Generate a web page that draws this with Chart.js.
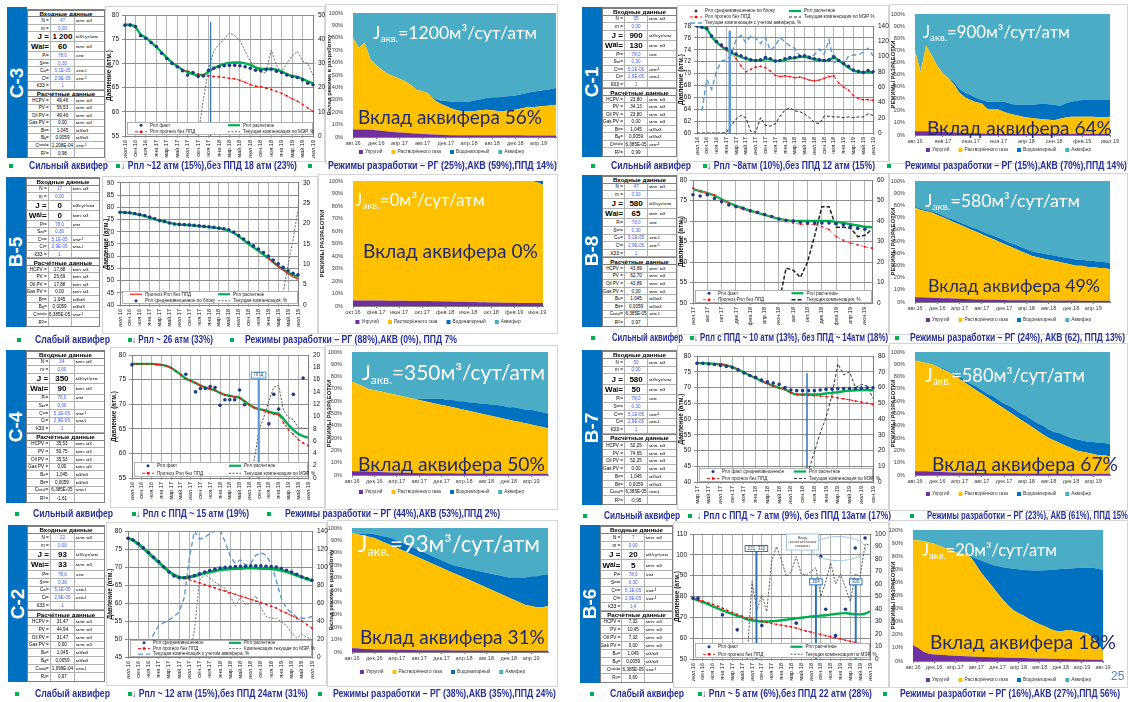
<!DOCTYPE html>
<html lang="ru">
<head>
<meta charset="utf-8">
<title>Режимы разработки по блокам</title>
<script src="https://cdn.jsdelivr.net/npm/chart.js@4.4.1/dist/chart.umd.min.js"></script>
<style>
html,body{margin:0;padding:0;background:#fff;}
#page{position:relative;width:1128px;height:702px;overflow:hidden;font-family:"Liberation Sans",Arial,sans-serif;background:#fff;}
.bar{position:absolute;background:#0070c0;}
.bar span{position:absolute;left:50%;top:50%;transform:translate(-50%,-50%) rotate(-90deg);color:#fff;font:bold 19px "Liberation Sans",Arial,sans-serif;white-space:nowrap;}
.tbl{position:absolute;border:1px solid #808080;box-sizing:border-box;background:#fff;}
.row{display:flex;box-sizing:border-box;border-bottom:1px solid #b0b0b0;}
.row:last-child{border-bottom:none;}
.row>div{box-sizing:border-box;height:100%;display:flex;align-items:center;white-space:nowrap;overflow:hidden;border-right:1px solid #b0b0b0;padding:0 1px;}
.row>div:last-child{border-right:none;}
.row.hdr>div{justify-content:center;font-weight:bold;width:100%;border-right:none;}
.row.hdr{border-top:1px solid #808080;border-bottom:1px solid #808080;}
.c1{width:30%;justify-content:flex-end;}
.c2{width:32%;justify-content:center;}
.c3{width:38%;justify-content:flex-start;}
.in .c2{color:#3a5bff;}
.big .c1,.big .c2{font-weight:bold;color:#000;}
sub,sup{line-height:0;}
.frame{position:absolute;border:1px solid #d4d4d4;box-sizing:border-box;}
.frame.white{background:#fff;}
.cap{position:absolute;color:#26309a;white-space:nowrap;font-size:10px;font-weight:bold;line-height:12px;transform-origin:0 50%;}
.bul{position:absolute;width:4px;height:4px;background:#00b050;}
.bigtxt{position:absolute;white-space:nowrap;font-family:Lato,"Open Sans",sans-serif;line-height:1;}
.bigtxt .sb{font-size:0.58em;position:relative;top:0.28em;}
canvas{position:absolute;}
</style>
</head>
<body>
<div id="page"></div>
<script>
// ---------- month labels ----------
const mJul16Jul19 = ["июл.16","авг.16","сен.16","окт.16","ноя.16","дек.16","янв.17","фев.17","мар.17","апр.17","май.17","июн.17","июл.17","авг.17","сен.17","окт.17","ноя.17","дек.17","янв.18","фев.18","мар.18","апр.18","май.18","июн.18","июл.18","авг.18","сен.18","окт.18","ноя.18","дек.18","янв.19","фев.19","мар.19","апр.19","май.19","июн.19","июл.19"];
const mAug16Jul19 = mJul16Jul19.slice(1);
const mOct16Jul19 = mJul16Jul19.slice(3);
const mAug16Aug19 = mJul16Jul19.slice(1).concat(["авг.19"]);
const mJun17Jul19 = ["июн.17","июл.17","авг.17","сен.17","окт.17","ноя.17","дек.17","янв.18","фев.18","мар.18","апр.18","май.18","июн.18","июл.18","авг.18","сен.18","окт.18","ноя.18","дек.18","янв.19","фев.19","мар.19","апр.19","май.19","июн.19","июл.19"];
const mMar17Sep19 = ["мар.17","апр.17","май.17","июн.17","июл.17","авг.17","сен.17","окт.17","ноя.17","дек.17","янв.18","фев.18","мар.18","апр.18","май.18","июн.18","июл.18","авг.18","сен.18","окт.18","ноя.18","дек.18","янв.19","фев.19","мар.19","апр.19","май.19","июн.19","июл.19","авг.19","сен.19"];

// ---------- С-3 ----------
const c3Table = ["47","0,00","1 200","60","78,0","0,30","5,1E-05","2,9E-05","1","49,46","56,53","49,46","0,00","1,045","0,0059","1,208E-04","0,98"];
const c3Fact = [77.9,77.9,77.6,75.7,75.2,74.3,73.5,72.1,71.0,70.0,69.3,68.5,67.6,68.1,67.3,67.4,68.6,69.0,69.3,69.5,69.6,69.6,69.5,69.3,69.0,68.6,68.5,68.8,68.8,68.4,68.1,67.6,67.3,67.1,66.6,65.9,65.6];
const c3Calc = [78.0,78.0,77.5,76.0,75.3,74.4,73.4,72.3,71.2,70.2,69.4,68.7,68.2,67.8,67.6,67.6,68.3,69.0,69.5,69.9,70.1,70.2,70.2,70.0,69.7,69.2,68.9,68.8,68.9,68.7,68.3,67.8,67.4,67.2,66.8,66.3,65.9];
const c3NoPpd = [null,null,null,null,null,null,null,null,null,null,null,68.5,68.4,68.1,67.8,67.6,67.4,67.3,67.2,67.1,66.9,66.8,66.5,66.1,65.6,65.3,65.2,64.9,64.6,64.2,63.8,63.3,62.7,62.2,61.5,60.8,60.1];
const c3Comp = [null,null,null,null,null,null,null,null,null,null,null,null,null,null,0,15,28,35,38,40,42.5,41.5,39.5,35,31,28,26.5,26,35.5,29,26.5,30,33,35,31,30,25];
const c3Elastic = [6,6,6,5.8,5.5,5,4.5,4,3.7,3.4,3.1,2.8,2.5,2.3,2,1.8,1.6,1.5,1.5,1.5,1.5,1.5,1.5,1.5,1.4,1.4,1.4,1.4,1.4,1.4,1.3,1.3,1.3,1.3,1.3,1.3];
const c3Gas = [74,66,70,57.2,52.5,49,46.5,45,43.3,41.6,38.9,35.2,34.5,32.7,28,25.2,23.4,21.5,20,19,19,19.5,20,20.5,20.1,19.6,19.6,20.1,20.6,21.6,22.7,22.7,23.2,23.7,24.2,24.7];
const c3Water = [0,0,0,0,0,0,0,0,0,0,0,0,0,0.5,1,2.5,4,5.5,6.7,7.7,8,8.5,9,9.5,10.5,11,11.5,11.5,11.5,11.5,11.5,12.5,12.5,13,13,13.5];
const c3Aquifer = [20,28,24,37,42,46,49,51,53,55,58,62,63,64.5,69,70.5,71,71.5,71.8,71.8,71.5,70.5,69.5,68.5,68,68,67.5,67,66.5,65.5,64.5,63.5,63,62,61.5,60.5];

// ---------- С-1 ----------
const c1Table = ["35","0,00","900","130","78,0","0,30","5,1E-05","2,9E-05","1","23,80","34,13","23,80","0,00","1,045","0,0059","6,385E-05","0,99"];
const c1Fact = [78,77.8,77.6,76.3,75.4,74.8,74.2,73.6,73.3,73.0,72.6,72.3,72.2,72.3,72.7,72.5,72.1,72.2,72.5,72.7,72.7,72.9,73.0,72.7,72.5,72.3,72.2,72.3,72.8,72.2,71.7,71.2,70.6,70.4,70.2,70.5,70.3];
const c1Calc = [78,77.8,77.5,76.2,75.3,74.6,74.0,73.5,73.1,72.8,72.5,72.3,72.2,72.2,72.4,72.4,72.1,72.1,72.3,72.5,72.6,72.8,72.8,72.6,72.4,72.3,72.2,72.3,72.7,72.2,71.6,71.0,70.5,70.3,70.2,70.3,70.1];
const c1NoPpd = [null,null,null,null,null,74.6,74.0,73.4,72.5,71.3,70.3,70.7,71.1,71.2,71.0,70.4,69.7,69.5,69.6,69.5,69.3,69.4,69.2,68.9,68.8,68.9,69.2,69.5,69.6,68.4,67.7,67.2,66.3,65.8,65.6,65.6,65.5];
const c1Comp = [0,0,0,0,0,0,0.5,10,18,23,20,2,1,20,10,9,12,22,30,33,29,28,25,20,14,12,22,22,21,21,20,21,20,21,21,25,23];
const c1AqComp = [null,29,70,57,81,94,96,102,122,128,118,127,124,117,125,108,114,125,119,114,111,101,100,101,102,110,103,122,92,95,90,101,102,102,106,111,101];
const c1Elastic = [3,3,3,2.8,2.6,2.4,2.2,2,1.8,1.6,1.5,1.4,1.3,1.2,1.1,1,1,1,1,1,1,1,1,1,1,1,1,1,1,1,1,1,1,1,1,1];
const c1Gas = [67,49,71,63.2,54.4,48.6,44.8,40,33.2,29.4,27.5,25.6,24.7,20.3,19.9,20,18,16.5,15.5,14.5,13.5,13,12.5,12,11.6,11.2,12.5,13.5,14,14,14,14,14,13.7,13.7,14];
const c1Water = [0,0,0,0,0,0,0,2,3,4,4,3.5,3,6,6.5,6.5,8.5,8.5,8.5,9.5,10.5,11,12,13,12.9,12.8,10.5,11.5,12.5,13.5,14,14,14,14.3,14.3,14];
const c1Aquifer = [30,48,26,34,43,49,53,56,62,65,67,69.5,71,72.5,72.5,72.5,72.5,74,75,75,75,75,74.5,74,74.5,75,76,74,72.5,71.5,71,71,71,71,71,71];

// ---------- В-5 ----------
const b5Table = ["17","0,00","0","0","78,0","0,30","5,1E-05","2,9E-05","1","17,88","25,69","17,88","0,00","1,045","0,0059","6,385E-05",""];
const b5Fact = [78.0,77.9,77.8,77.5,77.0,76.6,76.0,75.3,74.6,74.2,73.6,73.2,73.0,72.9,72.8,72.6,72.4,72.2,72.0,71.8,71.5,71.2,70.8,69.9,68.4,67.0,65.6,64.2,62.9,61.5,60.0,58.4,56.9,55.4,54.0,53.0,52.4];
const b5Calc = [78.0,77.9,77.7,77.3,76.9,76.4,75.8,75.2,74.6,74.1,73.6,73.2,72.9,72.8,72.7,72.5,72.3,72.1,71.9,71.7,71.4,71.1,70.5,69.5,68.1,66.6,65.1,63.6,62.2,60.7,59.2,57.5,56.0,54.6,53.3,52.3,51.5];
const b5NoPpd = [null,null,null,null,null,null,null,null,null,null,null,null,null,null,null,null,null,null,null,null,null,null,null,null,null,null,null,null,null,null,59.2,57.4,55.8,54.2,52.8,51.6,50.6];
const b5Comp = [null,null,null,null,null,null,null,null,null,null,null,null,null,null,null,null,null,null,null,null,null,null,null,null,null,null,null,null,null,null,null,null,null,3,10,16,23.5];
const b5Elastic = [4.5,4.5,4.5,4.5,4.4,4.4,4.3,4.3,4.2,4.2,4.1,4.1,4,4,3.9,3.8,3.7,3.6,3.5,3.4,3.3,3.2,3.1,3,2.9,2.8,2.7,2.6,2.6,2.5,2.5,2.5,2.5,2.5];
const b5Gas = [95.5,95.5,95.5,95.5,95.6,95.6,95.7,95.7,95.8,95.8,95.9,95.9,96,96,96.1,96.2,96.3,96.4,96.5,96.6,96.7,96.8,96.9,97,97.1,97.2,97.3,97.4,97.4,97.5,97.5,97.5,96.5,94.5];
const b5Water = [0,0,0,0,0,0,0,0,0,0,0,0,0,0,0,0,0,0,0,0,0,0,0,0,0,0,0,0,0,0,0,0,1,3];
const b5Aquifer = [0,0,0,0,0,0,0,0,0,0,0,0,0,0,0,0,0,0,0,0,0,0,0,0,0,0,0,0,0,0,0,0,0,0];

// ---------- В-8 ----------
const b8Table = ["47","0,00","580","65","78,0","0,30","5,1E-05","2,9E-05","1","43,89","62,70","43,89","0,00","1,045","0,0059","6,385E-05","0,97"];
const b8Fact = [76.4,76.1,76.4,75.5,74.7,73.9,73.5,73.1,72.5,72.1,71.6,71.1,70.5,70.2,70.0,69.7,69.5,69.5,69.5,69.5,69.3,69.1,68.7,68.2,68.0,null];
const b8Calc = [77.8,77.3,76.8,76.2,75.3,74.4,73.7,73.1,72.5,72.0,71.5,71.0,70.5,70.2,70.0,70.0,70.0,70.0,70.0,70.0,69.8,69.5,69.2,68.9,68.6,68.5];
const b8NoPpd = [78.0,77.2,76.8,76.4,75.1,74.3,73.5,72.8,72.3,72.1,71.5,71.1,70.6,69.9,69.5,69.2,69.2,69.1,68.6,67.9,66.2,65.3,64.6,64.2,63.7,63.4];
const b8Comp = [null,null,null,null,null,null,null,null,null,null,null,null,0,17,16,12.5,20,33,47,47,37,37,36.5,32.4,33,36];
const b8Elastic = [4,4,3.8,3.6,3.4,3.2,3,2.8,2.6,2.4,2.2,2,2,1.8,1.8,1.6,1.6,1.5,1.5,1.5,1.4,1.4,1.4,1.3,1.3,1.3,1.2,1.2,1.2,1.2,1.1,1.1,1.1,1,1,1];
const b8Gas = [74,72,71.2,70.4,68.6,66.8,65,63.2,61.4,59.6,57.8,56,54,52.2,50.2,48.4,46.4,44.5,42.5,40.5,38.6,36.6,35.6,34.7,33.7,32.7,31.8,30.8,29.8,28.8,28.9,27.9,27.9,27,27,26];
const b8Water = [1,1,1,1,1.5,1.5,1.5,2,2,2,2,2.5,2.5,2.5,3,3,3,3,3.5,3.5,3.5,4,4,4,4,4.5,4.5,4.5,5,5,5,5,5,5,5,5];
const b8Aquifer = [21,23,24,25,26.5,28.5,30.5,32,34,36,38,39.5,41.5,43.5,45,47,49,51,52.5,54.5,56.5,58,59,60,61,61.5,62.5,63.5,64,65,65,66,66,67,67,68];

// ---------- С-4 ----------
const c4Table = ["34","0,00","350","90","78,0","0,30","5,1E-05","2,9E-05","1","35,53","50,75","35,53","0,00","1,045","0,0059","6,385E-05","-1,61"];
const c4Fact = [78.0,null,null,null,null,null,null,null,null,null,null,76.1,null,72.5,73.2,73.2,73.6,73.4,69.8,70.9,70.9,70.9,72.9,69.9,null,null,null,null,66.0,72.0,69.0,null,null,72.0,null,75.3,null];
const c4Calc = [78.2,78.2,78.2,78.2,78.2,78.1,78.0,77.8,77.4,76.7,76.0,75.2,74.8,74.3,73.8,73.4,73.1,72.8,72.3,71.9,71.7,71.5,71.3,70.6,69.9,69.3,69.0,68.8,68.5,68.2,68.0,67.0,65.8,64.8,64.0,63.5,63.2];
const c4NoPpd = [78.2,78.2,78.2,78.2,78.2,78.1,78.0,77.8,77.4,76.7,76.0,75.2,74.8,74.3,73.8,73.4,73.1,72.8,72.3,71.9,71.7,71.5,71.3,70.6,69.9,69.3,69.0,68.7,68.3,68.0,67.8,66.2,64.8,63.9,62.8,62.1,61.6];
const c4Comp = [null,null,null,null,null,null,null,null,null,null,null,null,null,null,null,null,null,null,null,null,null,null,null,null,0,3,7.8,10,12.5,14.8,15,11,9.8,9.5,8.2,8.1,8.0];
const c4Elastic = [3,3,3,2.8,2.6,2.4,2.2,2,2,1.8,1.8,1.6,1.6,1.5,1.5,1.5,1.4,1.4,1.4,1.3,1.3,1.3,1.2,1.2,1.2,1.2,1.1,1.1,1.1,1.1,1,1,1,1,1,1];
const c4Gas = [73,71,69,67.2,66.4,65.6,64.8,64,63,62.2,61.2,60.4,59.4,58.5,57.5,56.5,55.6,54.6,53.6,52.7,51.7,50.7,49.8,48.8,47.8,46.8,45.9,44.9,43.9,42.9,42,41,40,39,38,37];
const c4Water = [0,0,0,0,0,0,0,0,0,0,0,0,1,2,3,4,5,5,6,6,7,7,8,8,9,9,10,10,10,11,11,11,12,12,12,12];
const c4Aquifer = [24,26,28,30,31,32,33,34,35,36,37,38,38,38,38,38,38,39,39,40,40,41,41,42,42,43,43,44,45,45,46,47,47,48,49,50];

// ---------- В-7 ----------
const b7Table = ["50","0,00","580","50","78,0","0,30","5,1E-05","2,9E-05","1","52,25","74,65","52,25","0,00","1,045","0,0059","6,385E-05","-0,95"];
const b7Fact = [77.7,77.7,77.5,77.3,77.0,76.7,76.4,75.6,74.6,73.8,73.2,72.4,71.8,71.4,71.0,70.0,69.2,69.0,69.0,69.0,69.0,69.2,69.4,69.5,69.6,69.7,69.7,69.7,69.8,69.9,69.9];
const b7Calc = [77.8,77.7,77.6,77.5,77.4,77.0,76.5,75.7,74.8,73.8,73.0,72.0,71.3,70.5,69.9,69.4,68.4,67.8,67.8,67.8,67.8,67.9,68.1,68.3,68.5,68.8,69.0,69.1,69.2,69.2,69.1];
const b7NoPpd = [77.8,77.7,77.6,77.5,77.4,77.0,76.5,75.7,74.8,73.8,73.0,72.0,71.3,70.5,69.9,69.4,68.4,67.8,67.6,67.5,67.4,67.3,67.1,67.0,66.7,66.4,66.1,65.7,65.4,65.0,64.6];
const b7Comp = [null,null,null,null,null,null,null,null,null,null,null,null,null,null,null,null,null,0,1,7,19,31,41,55,75,68,70,60,62,61,53];
const b7Elastic = [3,3,3,2.8,2.6,2.4,2.2,2,2,1.8,1.8,1.6,1.6,1.5,1.5,1.5,1.4,1.4,1.4,1.3,1.3,1.3,1.2,1.2,1.2,1.2,1.1,1.1,1.1,1.1,1,1,1,1,1,1];
const b7Gas = [90,89,88,87.2,85.4,83.6,81.8,79,76,73.2,70.2,67.4,64.4,61.5,58.5,55.5,52.6,49.6,46.6,43.7,40.7,37.7,34.8,31.8,28.8,26.8,24.9,22.9,20.9,18.9,18,17,16,15,15,14];
const b7Water = [0,0,0,0,0,1,1,1,2,2,2,3,3,3,4,4,4,5,5,5,6,6,6,7,7,7,8,8,8,9,9,9,10,10,10,10];
const b7Aquifer = [7,8,9,10,12,13,15,18,20,23,26,28,31,34,36,39,42,44,47,50,52,55,58,60,63,65,66,68,70,71,72,73,73,74,74,75];

// ---------- С-2 ----------
const c2Table = ["22","0,00","93","33","78,0","0,30","5,1E-05","2,9E-05","1","31,47","44,94","31,47","0,00","1,045","0,0059","1,099E-04","0,97"];
const c2Fact = [78.0,77.5,76.5,75.3,74.0,72.7,71.5,70.0,68.6,67.5,67.0,67.0,67.2,67.6,68.1,68.6,69.0,69.4,69.7,69.9,70.0,70.1,70.2,70.2,70.3,70.3,70.3,70.2,70.1,70.0,69.6,69.1,68.6,68.0,67.3,66.8,66.3];
const c2Calc = [78.0,77.4,76.4,75.2,73.9,72.6,71.3,70.0,68.8,67.8,67.2,67.0,67.2,67.5,67.9,68.3,68.6,68.9,69.2,69.4,69.5,69.6,69.6,69.7,69.7,69.7,69.6,69.6,69.5,69.4,69.1,68.7,68.2,67.7,67.2,66.7,66.2];
const c2NoPpd = [null,null,null,null,null,null,null,null,null,null,null,66.9,66.5,66.0,65.6,65.1,64.6,64.2,63.7,63.3,62.8,62.4,61.9,61.5,61.0,60.5,60.1,59.6,59.1,58.6,57.8,57.2,56.5,55.8,55.0,54.0,53.0];
const c2Comp = [null,null,null,null,null,null,null,null,null,null,null,null,0,30,85,92,88,83,80,76,68,57,66,58,60,68,55,45,43,43,39,35,27,21,25,22,19];
const c2AqComp = [null,null,null,null,15,25,35,38,41,45,50,66,110,140,131,133,137,140,141,128,112,104,108,102,104,113,116,113,104,85,65,54,49,44,43,43,45];
const c2Elastic = [3,3,2.5,2.5,2,2,2,2,1.8,1.8,1.6,1.6,1.5,1.5,1.5,1.4,1.4,1.4,1.3,1.3,1.3,1.2,1.2,1.2,1.2,1.1,1.1,1.1,1.1,1,1,1,1,1,1,1];
const c2Gas = [93,92,91.5,90.5,90,88,86,84,82.2,80.2,78.4,76.4,74.5,72.5,70.5,68.6,66.6,64.6,62.7,60.7,58.7,56.8,54.8,52.8,50.8,48.9,46.9,44.9,42.9,41,39,37,36,35,35,36];
const c2Water = [0,0.5,1.5,2.5,3,4,5,6,6,6,6,6,6,6,6,6,6,6,6,7,8,9,10,11,12,13,14,15,16,18,20,22,24,25,26,25];
const c2Aquifer = [4,4.5,4.5,4.5,5,6,7,8,10,12,14,16,18,20,22,24,26,28,30,31,32,33,34,35,36,37,38,39,40,40,40,40,39,39,38,38];

// ---------- В-6 ----------
const b6Table = ["7","0,00","20","5","78,0","0,30","5,1E-05","2,9E-05","1,4","7,32","10,45","7,32","0,00","1,045","0,0059","6,385E-05","0,60"];
const b6Fact = [79.2,79.2,null,null,null,null,71.2,null,null,64.0,null,null,null,null,66.1,null,null,null,null,null,null,67.2,null,null,null,null,99.2,73.9,null,61.3,null,73.9,null,103.3,null,108.1,null];
const b6Calc = [79.0,78.2,77.3,76.3,75.3,74.3,73.3,72.4,71.5,70.7,70.0,69.0,68.5,68.2,68.0,68.0,68.1,68.3,68.6,68.9,69.2,69.5,69.8,70.1,70.4,70.6,70.8,71.0,71.3,71.6,71.9,72.0,71.7,71.4,71.4,71.8,72.8];
const b6NoPpd = [79.0,78.4,77.8,77.0,76.2,75.4,74.4,73.3,72.3,71.4,70.5,69.7,69.1,68.6,68.1,67.6,67.1,66.6,66.2,65.8,65.4,64.8,64.1,63.4,62.9,62.3,61.8,61.2,60.7,60.1,59.6,59.0,58.5,57.9,57.4,56.9,56.6];
const b6Comp = [null,null,null,null,null,null,null,null,null,null,null,0,62,39,51,38,78,90,79,66,70,82,68,67,70,73,50,62,77,60,68,57,46,68,66,92,91];
const b6Elastic = [12,10,7,5.5,5,4.8,4.5,4.2,4,3.8,3.6,3.4,3.2,3,3,2.8,2.8,2.6,2.5,2.4,2.3,2.2,2.1,2,2,1.9,1.8,1.7,1.6,1.5,1.4,1.3,1.2,1.1,1,1,1];
const b6Gas = [80.4,82,84.6,85,84.5,83.2,82,80.5,79,78.2,77.9,75.6,69.8,64,59,54.2,49.2,44.4,40,36.6,34.2,32.3,29.9,28,26,24.6,22.7,21.3,20.9,22,22.1,21.2,20.8,19.9,17,13,6];
const b6Water = [0,0,0,0,0,0,0,0,0,0,0,1,5,9.5,13,16.5,20.5,24.5,28.5,31.5,33.5,35,37.3,39,41,42.7,45,46.8,47.7,47,47.2,48.4,49.1,50.2,53.2,56.5,62.5];
const b6Aquifer = [7.6,8,8.4,9.5,10.5,12,13.5,15.3,17,18,18.5,20,22,23.5,25,26.5,27.5,28.5,29,29.5,30,30.5,30.7,31,31,30.8,30.5,30.2,29.8,29.5,29.3,29.1,28.9,28.8,28.8,29.5,30.5];

// ---------- styles ----------
Chart.defaults.font.family = "'Liberation Sans', Arial, sans-serif";
Chart.defaults.color = '#111';

const STYLE = {
  fact: {showLine:false, pointRadius:1.8, pointStyle:'circle', pointBackgroundColor:'#1f3a8a', pointBorderColor:'#1f3a8a', pointBorderWidth:0, borderColor:'#1f3a8a', order:0},
  nopp: {borderColor:'#ff1a1a', borderWidth:1, borderDash:[3,2], pointRadius:1.2, pointStyle:'rect', pointBackgroundColor:'#ff0000', pointBorderWidth:0, order:1},
  calc: {borderColor:'#00b050', borderWidth:2.4, pointRadius:0, cubicInterpolationMode:'monotone', order:2},
  comp: {borderColor:'#404040', borderWidth:1, borderDash:[2,1.5], pointRadius:0, order:3, yAxisID:'y2'},
  aq:   {borderColor:'#5b9bd5', borderWidth:1.4, borderDash:[5,3], pointRadius:0, order:4, yAxisID:'y2'}
};
const AREA_NAMES = ['Упругий','Растворённого газа','Водонапорный','Аквифер'];
const AREA_COLORS = ['#7030a0','#ffc000','#0070c0','#4bacc6'];

// vertical event lines, tags and notes on the pressure charts
const marksPlugin = {
  id: 'marks',
  afterDatasetsDraw(chart, _a, o) {
    if (!o) return;
    const ctx = chart.ctx, a = chart.chartArea, xs = chart.scales.x, ys = chart.scales.y;
    ctx.save();
    (o.lines || []).forEach(m => {
      const x = xs.getPixelForValue(m.at);
      const top = m.from != null ? ys.getPixelForValue(m.from) : a.top;
      ctx.strokeStyle = m.color; ctx.lineWidth = m.width;
      ctx.beginPath(); ctx.moveTo(x, top); ctx.lineTo(x, a.bottom); ctx.stroke();
      if (m.tag) {
        ctx.font = "4.5px 'Liberation Sans', Arial";
        const tw = ctx.measureText(m.tag).width + 5, th = 6;
        ctx.fillStyle = '#fff'; ctx.fillRect(x - tw / 2, top - th, tw, th);
        ctx.lineWidth = 1; ctx.strokeRect(x - tw / 2, top - th, tw, th);
        ctx.fillStyle = '#1f4e79'; ctx.textAlign = 'center'; ctx.textBaseline = 'middle';
        ctx.fillText(m.tag, x, top - th / 2);
      }
    });
    (o.ellipses || []).forEach(e => {
      ctx.strokeStyle = e.color; ctx.lineWidth = 1;
      ctx.beginPath(); ctx.ellipse(xs.getPixelForValue(e.at), ys.getPixelForValue(e.val), e.rx, e.ry, 0, 0, Math.PI * 2); ctx.stroke();
    });
    (o.notes || []).forEach(n => {
      const x1 = xs.getPixelForValue(n.at1), x2 = xs.getPixelForValue(n.at2);
      const y1 = ys.getPixelForValue(n.v1), y2 = ys.getPixelForValue(n.v2);
      ctx.fillStyle = '#fff'; ctx.fillRect(x1, y1, x2 - x1, y2 - y1);
      ctx.strokeStyle = '#9dc3e6'; ctx.lineWidth = 1; ctx.strokeRect(x1, y1, x2 - x1, y2 - y1);
      ctx.fillStyle = '#333'; ctx.font = "3.8px 'Liberation Sans', Arial"; ctx.textAlign = 'center'; ctx.textBaseline = 'middle';
      const step = (y2 - y1) / (n.lines.length + 1);
      n.lines.forEach((t, k) => ctx.fillText(t, (x1 + x2) / 2, y1 + step * (k + 1)));
    });
    ctx.restore();
  }
};

function drawSwatch(ctx, ds, x, y, sw) {
  if (ds.showLine === false) {
    ctx.fillStyle = ds.pointBackgroundColor;
    ctx.beginPath(); ctx.arc(x + sw / 2, y, 1.5, 0, Math.PI * 2); ctx.fill(); return;
  }
  ctx.strokeStyle = ds.borderColor; ctx.lineWidth = Math.min(ds.borderWidth || 1, 2.2);
  ctx.setLineDash(ds.borderDash || []);
  ctx.beginPath(); ctx.moveTo(x, y); ctx.lineTo(x + sw, y); ctx.stroke(); ctx.setLineDash([]);
  if (ds.pointRadius > 0 && ds.pointStyle === 'rect') {
    ctx.fillStyle = ds.pointBackgroundColor; ctx.fillRect(x + sw / 2 - 1.2, y - 1.2, 2.4, 2.4);
  }
}

// series keys drawn at fixed places (inside the plot or under the axis)
const keysPlugin = {
  id: 'keys',
  afterDraw(chart, _a, o) {
    if (!o || !o.items) return;
    const ctx = chart.ctx;
    const [x1, y1, x2, y2] = o.rect;
    ctx.save();
    if (o.frame) {
      ctx.fillStyle = '#fff'; ctx.fillRect(x1, y1, x2 - x1, y2 - y1);
      ctx.strokeStyle = '#a0a0a0'; ctx.lineWidth = 0.8; ctx.strokeRect(x1 + 0.5, y1 + 0.5, x2 - x1 - 1, y2 - y1 - 1);
    }
    ctx.font = (o.size || 4.6) + "px 'Liberation Sans', Arial, sans-serif";
    ctx.textBaseline = 'middle'; ctx.textAlign = 'left';
    const items = o.items;
    if (o.flow) {
      const ws = items.map(it => 6 + ctx.measureText(it.text).width);
      const gap = o.gap || 8;
      const tot = ws.reduce((s, v) => s + v, 0) + gap * (ws.length - 1);
      let x = (x1 + x2) / 2 - tot / 2; const y = (y1 + y2) / 2;
      items.forEach((it, k) => {
        const ds = chart.data.datasets[it.ds];
        ctx.fillStyle = ds.backgroundColor; ctx.fillRect(x, y - 2, 4, 4);
        ctx.fillStyle = '#333'; ctx.fillText(it.text, x + 6, y);
        x += ws[k] + gap;
      });
    } else {
      const sw = o.sw || 12;
      const rows = Math.ceil(items.length / o.cols);
      const cw = (x2 - x1) / o.cols, rh = (y2 - y1) / rows;
      items.forEach((it, k) => {
        const c = k % o.cols, r = Math.floor(k / o.cols);
        const x = x1 + c * cw + (o.padX || 8), y = y1 + r * rh + rh / 2;
        const ds = chart.data.datasets[it.ds];
        drawSwatch(ctx, ds, x, y, sw);
        ctx.fillStyle = '#222'; ctx.fillText(ds.label, x + sw + 3, y);
      });
    }
    ctx.restore();
  }
};
Chart.register(marksPlugin, keysPlugin);

// ---------- panel layout ----------
const panels = [
  {name:'С-3', bar:[7,7,20,151], table:[27,9,78,149], vals:c3Table,
   line:{box:[105,6,225,156], plot:[125,15,313,136], labels:mJul16Jul19, every:2, y:[55,80,5], y2:[0,50,10],
     series:[['fact',c3Fact,'Рпл факт'],['calc',c3Calc,'Рпл расчетное'],['nopp',c3NoPpd,'Рпл прогноз без ППД'],['comp',c3Comp,'Текущая компенсация по МЭР, %',{borderColor:'#6a6a6a'}]],
     key:{rect:[127,122,313,135], cols:2, items:[0,1,2,3]},
     marks:{lines:[{at:16.4, from:78.6, color:'#2e75b6', width:1.2}]}},
   area:{box:[325,4,233,160], plot:[353,13,556,137], labels:mAug16Jul19, every:4, ytitle:'Вклад режима в разработку',
     data:[c3Elastic,c3Gas,c3Water,c3Aquifer], keyY:152, j:{t:'1200', x:373, y:27, w:164}, v:{t:'56%', x:358, y:111, w:184}},
   capY:166, caps:[[9,29,79,'Сильный аквифер'],[116,121,176,'↓ Рпл ~12 атм (15%),без ППД 18 атм (23%)'],[308,328,229,'Режимы разработки – РГ (25%),АКВ (59%),ППД 14%)']]},

  {name:'В-5', bar:[6,177,20,150], table:[26,177,74,150], vals:b5Table,
   line:{box:[102,176,228,158], plot:[120,182,298,305], labels:mJul16Jul19, every:2, y:[40,90,5], y2:[0,30,5],
     series:[['fact',b5Fact,'Рпл средневзвешенное по блоку'],['calc',b5Calc,'Рпл расчетное'],['nopp',b5NoPpd,'Прогноз Рпл без ППД',{borderDash:[],pointRadius:0,borderWidth:1.2}],['comp',b5Comp,'Текущая компенсация, %',{borderColor:'#6a6a6a'}]],
     key:{rect:[122,291,298,304], cols:2, items:[2,1,0,3]}},
   area:{box:[318,174,240,160], plot:[353,181,543,306], labels:mOct16Jul19, every:4, ytitle:'РЕЖИМЫ РАЗРАБОТКИ',
     data:[b5Elastic,b5Gas,b5Water,b5Aquifer], keyY:322, j:{t:'0', x:355, y:194, w:130}, v:{t:'0%', x:363, y:244, w:175}},
   capY:340, caps:[[17,35,75,'Слабый аквифер'],[128,132,81,'↓ Рпл ~ 26 атм (33%)'],[230,245,212,'Режимы разработки – РГ (88%),АКВ (0%), ППД 7%']]},

  {name:'С-4', bar:[6,350,20,153], table:[26,350,79,153], vals:c4Table,
   line:{box:[110,347,220,161], plot:[132,355,308,478], labels:mJul16Jul19, every:2, y:[55,80,5], y2:[0,20,2],
     series:[['fact',c4Fact,'Рпл факт'],['calc',c4Calc,'Рпл расчетное'],['nopp',c4NoPpd,'Прогноз Рпл без ППД',{order:1}],['comp',c4Comp,'Текущая компенсация по МЭР, %',{borderColor:'#555'}]],
     key:{rect:[134,462,308,477], cols:2, items:[0,1,2,3]},
     marks:{lines:[{at:25.9, from:75.3, color:'#5b9bd5', width:2, tag:'ППД'}]}},
   area:{box:[325,345,233,165], plot:[352,352,548,475], labels:mAug16Jul19, every:4, ytitle:'РЕЖИМЫ РАЗРАБОТКИ',
     data:[c4Elastic,c4Gas,c4Water,c4Aquifer], keyY:492, j:{t:'350', x:362, y:366, w:183}, v:{t:'50%', x:358, y:457, w:187}},
   capY:514, caps:[[15,33,80,'Сильный аквифер'],[132,136,113,'↓ Рпл с ППД ~ 15 атм (19%)'],[267,285,215,'Режимы разработки – РГ (44%),АКВ (53%),ППД 2%)']]},

  {name:'С-2', bar:[8,525,19,157], table:[27,525,78,157], vals:c2Table,
   line:{box:[106,522,224,164], plot:[128,531,312,657], labels:mJul16Jul19, every:2, y:[45,80,5], y2:[0,140,20],
     series:[['fact',c2Fact,'Рпл средневзвешенное'],['calc',c2Calc,'Рпл расчетное',{borderWidth:3}],['nopp',c2NoPpd,'Рпл прогноз без ППД'],['comp',c2Comp,'Компенсация текущая по МЭР, %',{borderColor:'#777'}],['aq',c2AqComp,'Текущая компенсация с учетом аквифера, %']],
     key:{rect:[130,640,312,657], cols:2, items:[0,1,2,3,4]}},
   area:{box:[327,520,231,167], plot:[352,528,548,652], labels:mAug16Jul19, every:4, ytitle:'Вклад режима в разработку',
     data:[c2Elastic,c2Gas,c2Water,c2Aquifer], keyY:672, j:{t:'93', x:358, y:537, w:182}, v:{t:'31%', x:360, y:630, w:185}},
   capY:694, caps:[[15,35,75,'Слабый аквифер'],[128,132,176,'↓ Рпл ~ 12 атм (15%),без ППД 24атм (31%)'],[318,333,223,'Режимы разработки – РГ (38%),АКВ (35%),ППД 24%)']]},

  {name:'С-1', bar:[582,7,20,150], table:[602,7,75,150], vals:c1Table,
   line:{box:[677,5,218,157], plot:[697,26,873,133], labels:mJul16Jul19, every:2, y:[60,78,2], y2:[0,140,20],
     series:[['fact',c1Fact,'Рпл средневзвешенное по блоку'],['calc',c1Calc,'Рпл расчетное'],['nopp',c1NoPpd,'Рпл прогноз без ППД'],['comp',c1Comp,'Текущая компенсация по МЭР %',{borderColor:'#222',borderDash:[3,2]}],['aq',c1AqComp,'Текущая компенсация с учетом аквифера, %']],
     key:{rect:[682,8,880,26], cols:2, items:[0,1,2,3,4], frame:false},
     marks:{lines:[{at:6.7, from:77.2, color:'#5b9bd5', width:2.5}]}},
   area:{box:[889,4,239,160], plot:[915,14,1110,135], labels:mAug16Jul19, every:5, ytitle:'РЕЖИМЫ РАЗРАБОТКИ',
     data:[c1Elastic,c1Gas,c1Water,c1Aquifer], keyY:150, j:{t:'900', x:923, y:27, w:147}, v:{t:'64%', x:927, y:121, w:185}},
   capY:166, caps:[[591,611,80,'Сильный аквифер'],[703,707,168,'↓ Рпл ~8атм (10%),без ППД 12 атм (15%)'],[887,905,222,'Режимы разработки – РГ (15%),АКВ (70%),ППД 14%)']]},

  {name:'В-8', bar:[582,175,20,152], table:[602,175,75,152], vals:b8Table,
   line:{box:[677,173,218,162], plot:[693,180,872,303], labels:mJun17Jul19, every:2, y:[50,80,5], y2:[0,60,10],
     series:[['fact',b8Fact,'Рпл факт'],['calc',b8Calc,'Рпл расчетное'],['nopp',b8NoPpd,'Прогноз Рпл без ППД',{borderColor:'#ff6060'}],['comp',b8Comp,'Текущая компенсация, %',{borderColor:'#222',borderWidth:1.5,borderDash:[4,2]}]],
     key:{rect:[695,290,872,303], cols:2, items:[0,1,2,3]}},
   area:{box:[889,173,239,162], plot:[915,181,1110,302], labels:mAug16Jul19, every:4, ytitle:'РЕЖИМЫ РАЗРАБОТКИ',
     data:[b8Elastic,b8Gas,b8Water,b8Aquifer], keyY:320, j:{t:'580', x:925, y:195, w:155}, v:{t:'49%', x:928, y:280, w:172}},
   capY:338, caps:[[591,612,71,'Сильный аквифер'],[690,694,194,'↓ Рпл с ППД ~ 10 атм (13%), без ППД ~ 14атм (18%)'],[895,910,215,'Режимы разработки – РГ (24%), АКВ (62), ППД 13%)']]},

  {name:'В-7', bar:[582,350,20,155], table:[602,350,75,155], vals:b7Table,
   line:{box:[677,345,218,165], plot:[697,356,873,482], labels:mMar17Sep19, every:2, y:[40,80,5], y2:[0,80,10],
     series:[['fact',b7Fact,'Рпл факт средневзвешенное'],['calc',b7Calc,'Рпл расчетное'],['nopp',b7NoPpd,'Рпл прогноз без ППД'],['comp',b7Comp,'Текущая компенсация по МЭР, %',{borderColor:'#333',borderDash:[3,2]}]],
     key:{rect:[699,468,873,482], cols:2, items:[0,1,2,3]},
     marks:{lines:[{at:18.75, from:74.5, color:'#2e75b6', width:1.5}]}},
   area:{box:[889,343,239,168], plot:[915,352,1110,475], labels:mAug16Jul19, every:4, ytitle:'РЕЖИМЫ РАЗРАБОТКИ',
     data:[b7Elastic,b7Gas,b7Water,b7Aquifer], keyY:494, j:{t:'580', x:925, y:369, w:160}, v:{t:'67%', x:932, y:457, w:186}},
   capY:516, caps:[[583,604,76,'Сильный аквифер'],[688,697,194,'↓ Рпл с ППД ~ 7 атм (9%), без ППД 13атм (17%)'],[910,927,201,'Режимы разработки – РГ (23%), АКВ (61%), ППД 15%']]},

  {name:'В-6', bar:[580,525,20,158], table:[600,525,73,158], vals:b6Table,
   line:{box:[673,522,222,166], plot:[693,534,870,659], labels:mJul16Jul19, every:2, y:[50,110,10], y2:[0,100,10],
     series:[['fact',b6Fact,'Рпл факт'],['calc',b6Calc,'Рпл расчетное'],['nopp',b6NoPpd,'Рпл прогноз без ППД'],['comp',b6Comp,'Текущая компенсация по МЭР, %',{borderColor:'#555'}]],
     key:{rect:[695,643,870,658], cols:2, items:[0,1,2,3]},
     marks:{lines:[{at:12.9, from:101.6, color:'#2e75b6', width:2, tag:'231, 332'},{at:25, from:85.6, color:'#2e75b6', width:2, tag:'304'},{at:33.1, from:85.6, color:'#2e75b6', width:2, tag:'305'}],
       ellipses:[{at:29.6, val:103, rx:27, ry:12, color:'#9dc3e6'}],
       notes:[{at1:19, at2:25.5, v1:110, v2:102.3, lines:['Ввод','нагнетательных','скважин']}]}},
   area:{box:[889,520,239,168], plot:[913,530,1103,661], labels:mAug16Aug19, every:4, ytitle:'РЕЖИМЫ РАЗРАБОТКИ',
     data:[b6Elastic,b6Gas,b6Water,b6Aquifer], keyY:680, j:{t:'20', x:922, y:545, w:135}, v:{t:'18%', x:930, y:635, w:186}},
   capY:694, caps:[[590,610,74,'Слабый аквифер'],[698,702,170,'↓ Рпл ~ 5 атм (6%),без ППД 22 атм (28%)'],[883,900,220,'Режимы разработки – РГ (16%),АКВ (27%),ППД 56%)']]}
];

// ---------- builders ----------
const page = document.getElementById('page');
function div(cls, x, y, w, h) {
  const d = document.createElement('div');
  if (cls) d.className = cls;
  d.style.left = x + 'px'; d.style.top = y + 'px';
  if (w != null) d.style.width = w + 'px';
  if (h != null) d.style.height = h + 'px';
  page.appendChild(d);
  return d;
}
function addCanvas(b, bg) {
  const c = document.createElement('canvas');
  c.width = b[2]; c.height = b[3];
  c.style.left = b[0] + 'px'; c.style.top = b[1] + 'px';
  c.style.width = b[2] + 'px'; c.style.height = b[3] + 'px';
  if (bg) c.style.background = bg;
  page.appendChild(c);
  return c;
}

const TABLE_ROWS = [
  ['hdr','Входные данные'],
  ['in','N =','млн. м3'], ['in','m =',''], ['big','J =','м3/сут/атм'], ['big','W<sub>ai</sub> =','млн. м3'],
  ['in','P<sub>i</sub> =','атм'], ['in','S<sub>wi</sub> =',''], ['in','C<sub>w</sub> =','атм<sup>-1</sup>'], ['in','C<sub>f</sub> =','атм<sup>-1</sup>'], ['in','КЗЗ =',''],
  ['hdr','Расчётные данные'],
  ['out','HCPV =','млн. м3'], ['out','PV =','млн. м3'], ['out','Oil PV =','млн. м3'], ['out','Gas PV =','млн. м3'],
  ['out','B<sub>o</sub> =','м3/м3'], ['out','B<sub>g</sub> =','м3/м3'], ['out','C<sub>total</sub> =','атм<sup>-1</sup>'], ['out','R<sup>2</sup> =','']
];
function buildTable(t, vals) {
  const box = div('tbl', t[0], t[1], t[2], t[3]);
  const units = TABLE_ROWS.map(r => r[0] === 'big' ? 1.35 : 1);
  const total = units.reduce((s, v) => s + v, 0);
  let vi = 0;
  TABLE_ROWS.forEach((r, k) => {
    const row = document.createElement('div');
    row.className = 'row ' + r[0];
    row.style.height = ((t[3] - 2) * units[k] / total) + 'px';
    if (r[0] === 'hdr') {
      row.innerHTML = '<div>' + r[1] + '</div>';
      row.style.fontSize = '6.2px';
    } else {
      const fs = r[0] === 'big' ? 8 : 4.6;
      row.style.fontSize = fs + 'px';
      row.innerHTML = '<div class="c1">' + r[1] + '</div><div class="c2">' + vals[vi++] + '</div><div class="c3" style="font-size:4.4px">' + r[2] + '</div>';
    }
    box.appendChild(row);
  });
}

function buildLine(L, frameW) {
  const [bx, by, bw, bh] = L.box, [px1, py1, px2, py2] = L.plot;
  div('frame', bx, by, frameW, bh);
  const cv = addCanvas(L.box);
  const datasets = L.series.map(([role, data, label, extra]) =>
    Object.assign({label, data, fill:false, yAxisID:'y'}, STYLE[role], extra || {}));
  const every = L.every;
  const keys = L.key ? {
    frame: L.key.frame !== false,
    rect: [L.key.rect[0] - bx, L.key.rect[1] - by, L.key.rect[2] - bx, L.key.rect[3] - by],
    cols: L.key.cols, items: L.key.items.map(i => ({ds:i})), size:4.6, sw:12
  } : {};
  new Chart(cv, {
    type:'line',
    data:{labels:L.labels, datasets},
    options:{
      responsive:false, animation:false, devicePixelRatio:1, events:[],
      layout:{padding:{top:py1 - by, left:0, right:0, bottom:0}},
      plugins:{legend:{display:false}, tooltip:{enabled:false}, keys, marks:L.marks || {}},
      scales:{
        x:{ticks:{autoSkip:false, maxRotation:90, minRotation:90, font:{size:5.6}, color:'#111', padding:2,
              callback(v, i){ return i % every === 0 ? this.getLabelForValue(v) : ''; }},
           grid:{color:c => (c.index % every === 0) ? '#b4b4b4' : 'rgba(0,0,0,0)', tickLength:2},
           border:{color:'#7f7f7f'},
           afterFit(s){ s.height = by + bh - py2; }},
        y:{position:'left', min:L.y[0], max:L.y[1], ticks:{stepSize:L.y[2], font:{size:6.5}, color:'#111', padding:3},
           grid:{color:'#8c8c8c', tickLength:3}, border:{color:'#7f7f7f'},
           title:{display:true, text:'Давление (атм.)', font:{size:6.5, weight:'bold'}, color:'#111', padding:{top:0, bottom:1}},
           afterFit(s){ s.width = px1 - bx; }},
        y2:{position:'right', min:L.y2[0], max:L.y2[1], ticks:{stepSize:L.y2[2], font:{size:6.5}, color:'#111', padding:2},
           grid:{drawOnChartArea:false, tickLength:3}, border:{color:'#7f7f7f'},
           afterFit(s){ s.width = bx + bw - px2; }}
      }
    }
  });
}

function bigText(spec, html, color) {
  const d = div('bigtxt', spec.x, 0);
  d.innerHTML = html; d.style.color = color; d.style.fontSize = '20px';
  const r = d.getBoundingClientRect().width;
  const fs = 20 * spec.w / r;
  d.style.fontSize = fs + 'px';
  d.style.top = (spec.y - fs * 0.17) + 'px';
}

function buildArea(A) {
  const [bx, by, bw, bh] = A.box, [px1, py1, px2, py2] = A.plot;
  div('frame white', bx, by, bw, bh);
  const cv = addCanvas(A.box);
  const datasets = A.data.map((d, k) => ({
    label:AREA_NAMES[k], data:d, backgroundColor:AREA_COLORS[k], borderColor:'rgba(0,0,0,0)', borderWidth:0,
    pointRadius:0, fill: k === 0 ? 'origin' : '-1', tension:0
  }));
  const every = A.every;
  new Chart(cv, {
    type:'line',
    data:{labels:A.labels, datasets},
    options:{
      responsive:false, animation:false, devicePixelRatio:1, events:[],
      layout:{padding:{top:py1 - by, right:bx + bw - px2, left:0, bottom:0}},
      plugins:{legend:{display:false}, tooltip:{enabled:false},
        keys:{flow:true, rect:[0, A.keyY - by - 4, bw, A.keyY - by + 4], items:AREA_NAMES.map((t, k) => ({ds:k, text:t})), size:4.8, gap:9}},
      scales:{
        x:{ticks:{autoSkip:false, maxRotation:0, minRotation:0, font:{size:5.6}, color:'#404040', padding:1,
              callback(v, i){ return i % every === 0 ? this.getLabelForValue(v) : ''; }},
           grid:{drawOnChartArea:false, tickLength:2, color:c => (c.index % every === 0) ? '#808080' : 'rgba(0,0,0,0)'},
           border:{color:'#808080'},
           afterFit(s){ s.height = by + bh - py2; }},
        y:{stacked:true, min:0, max:100, ticks:{stepSize:10, font:{size:5.6}, color:'#404040', padding:2, callback:v => v + '%'},
           grid:{display:false}, border:{color:'#808080'},
           title:{display:true, text:A.ytitle, font:{size:5.8, weight:'bold'}, color:'#222', padding:{top:1, bottom:1}},
           afterFit(s){ s.width = px1 - bx; }}
      }
    }
  });
  bigText(A.j, 'J<span class="sb">акв.</span>=' + A.j.t + 'м³/сут/атм', '#ffffff');
  bigText(A.v, 'Вклад аквифера ' + A.v.t, '#202a72');
}

function buildCaps(y, caps) {
  caps.forEach(([bxp, tx, w, text]) => {
    div('bul', bxp, y - 2, 4, 4);
    const t = div('cap', tx, y - 6);
    t.textContent = text;
    const r = t.getBoundingClientRect().width;
    t.style.transform = 'scaleX(' + (w / r) + ')';
  });
}

panels.forEach(p => {
  const b = div('bar', p.bar[0], p.bar[1], p.bar[2], p.bar[3]);
  b.innerHTML = '<span>' + p.name + '</span>';
  buildTable(p.table, p.vals);
  // the share chart goes underneath, so the pressure chart's right axis stays readable
  buildArea(p.area);
  buildLine(p.line, p.area.box[0] - p.line.box[0]);
  buildCaps(p.capY, p.caps);
});

const pg = div('', 1111, 669);
pg.style.position = 'absolute';
pg.style.cssText += 'color:#4f81bd;font-size:12px;font-family:"Liberation Sans",Arial,sans-serif;';
pg.textContent = '25';
</script>
</body>
</html>
